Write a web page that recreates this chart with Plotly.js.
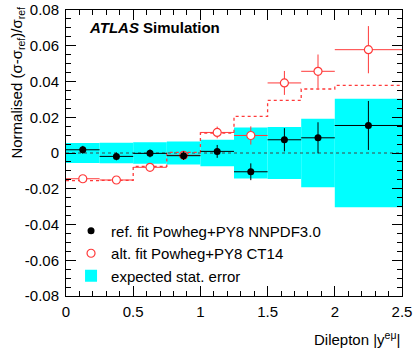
<!DOCTYPE html>
<html>
<head>
<meta charset="utf-8">
<script src="https://cdn.plot.ly/plotly-3.0.1.min.js"></script>
<style>
  html, body { margin: 0; padding: 0; background: #fff; }
  #chart { width: 414px; height: 353px; }
</style>
</head>
<body>
<div id="chart"></div>
<script>
// Bins in dilepton |y|
const binEdges = [0, 0.25, 0.5, 0.75, 1.0, 1.25, 1.5, 1.75, 2.0, 2.5];

// Expected stat. error (half height of the cyan band)
const statErr = [0.0056, 0.0058, 0.0060, 0.0065, 0.0074, 0.0143, 0.0146, 0.0191, 0.0303];

// Reference fit Powheg+PY8 NNPDF3.0
const refFit = [0, 0, 0, 0, 0, 0, 0, 0, 0];
const refPoints = [0.0018, -0.0019, -0.0002, -0.0015, 0.0009, -0.0105, 0.0074, 0.0085, 0.0154];
const refPointErr = [0.0022, 0.0022, 0.0022, 0.0024, 0.0036, 0.0047, 0.0065, 0.0087, 0.0137];

// Alternative fit Powheg+PY8 CT14
const altFit = [-0.0155, -0.0153, -0.0075, 0.0003, 0.0112, 0.0205, 0.0294, 0.0358, 0.0378];
const altPoints = [-0.0144, -0.0151, -0.0080, -0.0013, 0.0115, 0.0098, 0.0392, 0.0457, 0.0578];
const altPointErr = [0.0018, 0.0018, 0.0020, 0.0022, 0.0033, 0.0051, 0.0067, 0.0094, 0.0132];

// Axis ticks
const yTickVals = [-0.08, -0.06, -0.04, -0.02, 0, 0.02, 0.04, 0.06, 0.08];
const yTickText = ['-0.08', '-0.06', '-0.04', '-0.02', '0', '0.02', '0.04', '0.06', '0.08'];

// Derived bin quantities
const binCenters = binEdges.slice(0, -1).map((e, i) => (e + binEdges[i + 1]) / 2);
const binWidths = binEdges.slice(0, -1).map((e, i) => binEdges[i + 1] - e);
const halfWidths = binWidths.map(w => w / 2);

const RED = '#ff3a3a';
const FONT = 'Liberation Sans, Arial, sans-serif';

const bandTrace = {
    type: 'bar',
    x: binCenters,
    y: statErr.map(e => 2 * e),
    base: statErr.map(e => -e),
    width: binWidths,
    marker: { color: '#00ffff', line: { width: 0 } },
    name: 'expected stat. error',
    legendrank: 3,
    hoverinfo: 'skip'
};

const refLineTrace = {
    type: 'scatter',
    mode: 'lines',
    x: binEdges,
    y: refFit.concat(refFit[refFit.length - 1]),
    line: { shape: 'hv', color: '#444', width: 1, dash: '3px,3px' },
    showlegend: false
};

const altLineTrace = {
    type: 'scatter',
    mode: 'lines',
    x: binEdges,
    y: altFit.concat(altFit[altFit.length - 1]),
    line: { shape: 'hv', color: RED, width: 1.3, dash: 'dot' },
    showlegend: false
};

const altPointsTrace = {
    type: 'scatter',
    mode: 'markers',
    x: binCenters,
    y: altPoints,
    marker: { symbol: 'circle', size: 8, color: '#fff', line: { width: 1.2, color: RED } },
    error_x: { type: 'data', array: halfWidths, width: 0, thickness: 1, color: RED },
    error_y: { type: 'data', array: altPointErr, width: 0, thickness: 1, color: RED },
    name: 'alt. fit Powheg+PY8 CT14',
    legendrank: 2
};

const refPointsTrace = {
    type: 'scatter',
    mode: 'markers',
    x: binCenters,
    y: refPoints,
    marker: { symbol: 'circle', size: 7, color: '#000' },
    error_x: { type: 'data', array: halfWidths, width: 0, thickness: 1, color: '#000' },
    error_y: { type: 'data', array: refPointErr, width: 0, thickness: 1, color: '#000' },
    name: 'ref. fit Powheg+PY8 NNPDF3.0',
    legendrank: 1
};

const layout = {
    width: 414,
    height: 353,
    margin: { l: 66, r: 12, t: 10, b: 57 },
    paper_bgcolor: '#fff',
    plot_bgcolor: '#fff',
    font: { family: FONT, size: 15, color: '#000' },
    barmode: 'overlay',
    showlegend: true,
    legend: {
        x: 0.015, y: 0.285, xanchor: 'left', yanchor: 'top',
        bgcolor: 'rgba(0,0,0,0)',
        font: { family: FONT, size: 15 },
        itemwidth: 30,
        tracegroupgap: 0
    },
    xaxis: {
        range: [0, 2.5],
        dtick: 0.5,
        ticks: 'inside',
        ticklen: 10,
        tickcolor: '#000',
        showline: true,
        linecolor: '#000',
        linewidth: 1,
        mirror: 'allticks',
        showgrid: false,
        zeroline: false,
        ticklabelstandoff: 2,
        minor: { dtick: 0.1, ticks: 'inside', ticklen: 5, tickcolor: '#000', showgrid: false }
    },
    yaxis: {
        range: [-0.08, 0.08],
        tickvals: yTickVals,
        ticktext: yTickText,
        ticks: 'inside',
        ticklen: 10,
        tickcolor: '#000',
        showline: true,
        linecolor: '#000',
        linewidth: 1,
        mirror: 'allticks',
        showgrid: false,
        zeroline: false,
        ticklabelstandoff: 3,
        minor: { dtick: 0.005, ticks: 'inside', ticklen: 5, tickcolor: '#000', showgrid: false }
    },
    annotations: [
        {
            xref: 'paper', yref: 'paper', x: 0.063, y: 0.94, xanchor: 'left', yanchor: 'middle',
            text: '<b><i>ATLAS</i></b> <b>Simulation</b>',
            showarrow: false, font: { family: FONT, size: 15 }
        },
        {
            xref: 'paper', yref: 'paper', x: 1, y: -0.147, xanchor: 'right', yanchor: 'middle',
            text: 'Dilepton |y<sup>eμ</sup>|',
            showarrow: false, font: { family: FONT, size: 15 }
        },
        {
            xref: 'paper', yref: 'paper', x: -0.145, y: 1.02, xanchor: 'center', yanchor: 'top',
            textangle: -90,
            text: 'Normalised (σ-σ<sub>ref</sub>)/σ<sub>ref</sub>',
            showarrow: false, font: { family: FONT, size: 15 }
        }
    ]
};

Plotly.newPlot('chart', [bandTrace, refLineTrace, altLineTrace, altPointsTrace, refPointsTrace], layout, { staticPlot: true });
</script>
</body>
</html>
